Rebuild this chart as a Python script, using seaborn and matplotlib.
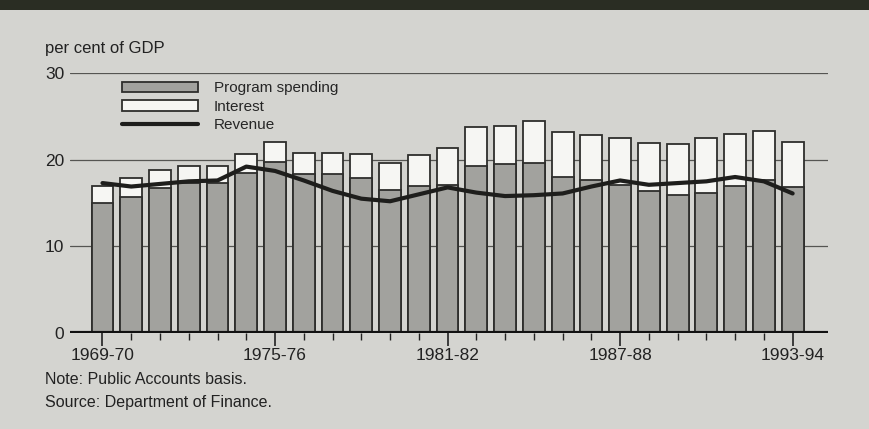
import numpy as np
import pandas as pd
import matplotlib
matplotlib.use("Agg")
import matplotlib.pyplot as plt
from matplotlib.patches import Patch, Rectangle
from matplotlib.lines import Line2D
import seaborn as sns

years = ["1969-70", "1970-71", "1971-72", "1972-73", "1973-74", "1974-75", "1975-76",
         "1976-77", "1977-78", "1978-79", "1979-80", "1980-81", "1981-82", "1982-83",
         "1983-84", "1984-85", "1985-86", "1986-87", "1987-88", "1988-89", "1989-90",
         "1990-91", "1991-92", "1992-93", "1993-94"]
program_spending = [15.0, 15.7, 16.7, 17.3, 17.3, 18.5, 19.7, 18.4, 18.3, 17.9, 16.5, 17.0,
                    17.1, 19.3, 19.5, 19.6, 18.0, 17.7, 17.1, 16.4, 15.9, 16.2, 17.0, 17.7, 16.8]
interest = [2.0, 2.2, 2.1, 2.0, 2.0, 2.1, 2.3, 2.4, 2.5, 2.8, 3.1, 3.5,
            4.2, 4.5, 4.4, 4.9, 5.2, 5.2, 5.4, 5.5, 5.9, 6.3, 6.0, 5.6, 5.2]
revenue = [17.3, 16.9, 17.2, 17.5, 17.6, 19.2, 18.7, 17.6, 16.4, 15.5, 15.2, 16.0,
           16.8, 16.2, 15.8, 15.9, 16.1, 16.9, 17.6, 17.1, 17.3, 17.5, 18.0, 17.5, 16.1]
tick_labels = ["1969-70", "1975-76", "1981-82", "1987-88", "1993-94"]

df = pd.DataFrame({
    "year": years,
    "pos": np.arange(len(years)),
    "program": program_spending,
    "interest": interest,
    "revenue": revenue,
})
df["total"] = df["program"] + df["interest"]

BG = "#d4d4d0"
GRAY = "#a2a29e"
EDGE = "#2e2e2c"
WHITE = "#f6f6f3"

sns.set_style("white")
plt.rcParams["font.family"] = ["Liberation Sans", "DejaVu Sans"]

fig = plt.figure(figsize=(8.69, 4.29), dpi=100, facecolor=BG)
ax = fig.add_axes([70 / 869, 1 - 333 / 429, 758 / 869, 260 / 429])
ax.set_facecolor(BG)

# dark header band
fig.patches.append(Rectangle((0, 1 - 10 / 429), 1, 10 / 429, transform=fig.transFigure,
                             facecolor="#2a2d23", edgecolor="none", zorder=0))

# gridlines
for v in [10, 20, 30]:
    ax.axhline(v, color="#555552", lw=0.9, zorder=0)

sns.barplot(data=df, x="pos", y="total", native_scale=True, color=WHITE, saturation=1,
            edgecolor=EDGE, linewidth=1.3, width=0.76, ax=ax, zorder=2, errorbar=None)
sns.barplot(data=df, x="pos", y="program", native_scale=True, color=GRAY, saturation=1,
            edgecolor=EDGE, linewidth=1.3, width=0.76, ax=ax, zorder=3, errorbar=None)
sns.lineplot(data=df, x="pos", y="revenue", color="#1e1e1c", lw=3.0, ax=ax, zorder=4)

ax.axhline(0, color="#111111", lw=3, zorder=5)

ax.set_xlim(-1.13, 25.23)
ax.set_ylim(0, 30)
ax.set_xlabel("")
ax.set_ylabel("")
for s in ax.spines.values():
    s.set_visible(False)

ax.set_yticks([0, 10, 20, 30])
ax.set_yticklabels(["0", "10", "20", "30"], fontsize=12.5, color="#222222")
ax.tick_params(axis="y", length=0, pad=4)

label_pos = [years.index(t) for t in tick_labels]
ax.set_xticks(label_pos)
ax.set_xticklabels(tick_labels, fontsize=12.5, color="#222222")
ax.set_xticks(df["pos"].tolist(), minor=True)
ax.tick_params(axis="x", which="both", bottom=True)
ax.tick_params(axis="x", which="major", length=9, width=1.2, color="#222222", pad=2, direction="out")
ax.tick_params(axis="x", which="minor", length=5, width=1.0, color="#222222", direction="out")

handles = [Patch(facecolor=GRAY, edgecolor=EDGE, linewidth=1.3),
           Patch(facecolor=WHITE, edgecolor=EDGE, linewidth=1.3),
           Line2D([0], [0], color="#1e1e1c", lw=3.0)]
labels = ["Program spending", "Interest", "Revenue"]
ax.legend(handles, labels, loc="upper left", bbox_to_anchor=(0.0686, 0.968), frameon=False,
          borderpad=0, borderaxespad=0, handlelength=5.0, handleheight=0.7,
          handletextpad=1.0, labelspacing=0.3, fontsize=11)

fig.text(45 / 869, 1 - 48 / 429, "per cent of GDP", fontsize=12, va="center", ha="left", color="#222222")
fig.text(45 / 869, 1 - 380 / 429, "Note: Public Accounts basis.", fontsize=11.5, va="center", ha="left", color="#222222")
fig.text(45 / 869, 1 - 402 / 429, "Source: Department of Finance.", fontsize=11.5, va="center", ha="left", color="#222222")

fig.savefig("out.png", dpi=100, facecolor=BG)
